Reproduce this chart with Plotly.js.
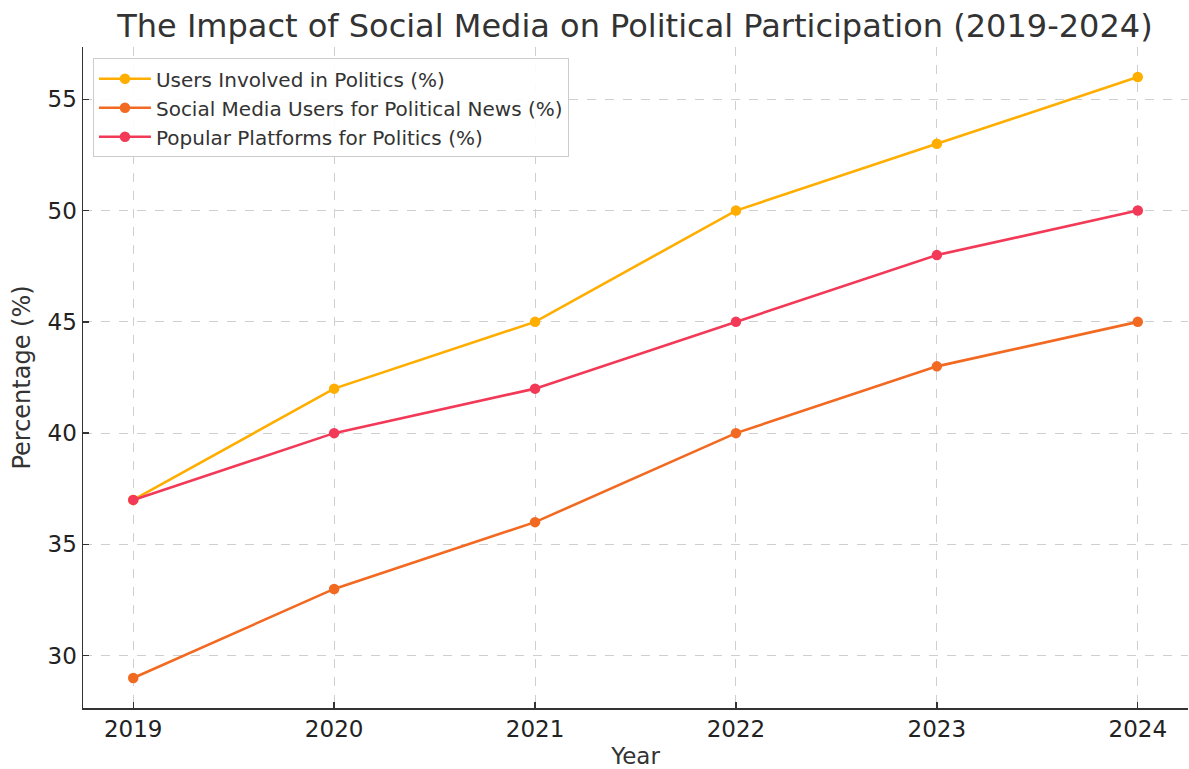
<!DOCTYPE html>
<html><head><meta charset="utf-8">
<script src="https://cdn.plot.ly/plotly-3.0.1.min.js"></script>
<style>html,body{margin:0;padding:0;background:#fff}#chart{width:1189px;height:769px}</style>
</head><body><div id="chart"></div>
<script>
const years = [2019, 2020, 2021, 2022, 2023, 2024];
const usersInvolved = [37, 42, 45, 50, 53, 56];
const socialNews = [29, 33, 36, 40, 43, 45];
const platforms = [37, 40, 42, 45, 48, 50];
const seriesNames = ["Users Involved in Politics (%)", "Social Media Users for Political News (%)", "Popular Platforms for Politics (%)"];
const colors = ["#FFAE00", "#F26A22", "#F23A58"];

const font = "DejaVu Sans, sans-serif";
const mk = (y, i) => ({
  x: years, y: y, name: seriesNames[i], type: "scatter", mode: "lines+markers",
  line: {color: colors[i], width: 2.6}, marker: {color: colors[i], size: 10.5}
});
const traces = [mk(usersInvolved, 0), mk(socialNews, 1), mk(platforms, 2)];

const layout = {
  width: 1189, height: 769,
  margin: {l: 83, r: 1, t: 47, b: 61},
  paper_bgcolor: "#fff", plot_bgcolor: "#fff",
  font: {family: font, color: "#333"},
  title: {text: "The Impact of Social Media on Political Participation (2019-2024)", x: 0.534, xanchor: "center", y: 0.967, yanchor: "middle", font: {size: 32, color: "#333", family: font}},
  xaxis: {
    range: [2018.75, 2024.25], tickvals: years, ticktext: years.map(String),
    ticks: "inside", ticklen: 6, tickwidth: 1.3, tickcolor: "#333",
    showline: true, linecolor: "#333", linewidth: 1.5, mirror: false,
    showgrid: true, gridcolor: "#cfcfcf", griddash: "dash", gridwidth: 1, zeroline: false,
    tickfont: {size: 23, color: "#222"},
    title: {text: "Year", font: {size: 23, color: "#333"}, standoff: 8}
  },
  yaxis: {
    range: [27.65, 57.35], tickvals: [30, 35, 40, 45, 50, 55],
    ticks: "inside", ticklen: 6, tickwidth: 1.3, tickcolor: "#333",
    showline: true, linecolor: "#333", linewidth: 1.5,
    showgrid: true, gridcolor: "#cfcfcf", griddash: "dash", gridwidth: 1, zeroline: false,
    tickfont: {size: 23, color: "#222"},
    title: {text: "Percentage (%)", font: {size: 24, color: "#333"}, standoff: 10}
  },
  legend: {
    x: 0.009, y: 0.983, xanchor: "left", yanchor: "top",
    bgcolor: "rgba(255,255,255,0.9)", bordercolor: "#cccccc", borderwidth: 1,
    itemwidth: 52,
    font: {size: 20, color: "#333", family: font}, tracegroupgap: 0
  },
  showlegend: true
};
Plotly.newPlot("chart", traces, layout, {displayModeBar: false, staticPlot: true});
</script></body></html>
